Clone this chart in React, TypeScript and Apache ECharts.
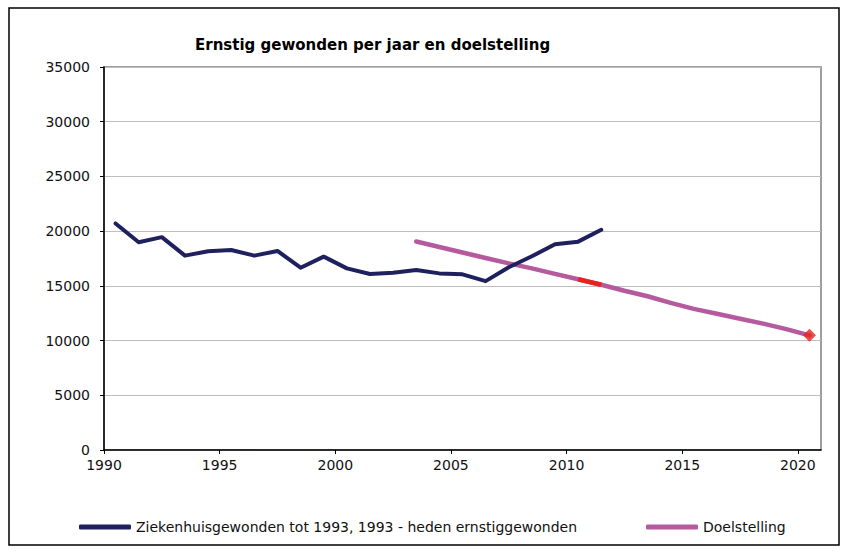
import React, { useEffect, useRef } from "react";
import * as echarts from "echarts";

const TITLE = "Ernstig gewonden per jaar en doelstelling";
const SERIES_A_NAME = "Ziekenhuisgewonden tot 1993, 1993 - heden ernstiggewonden";
const SERIES_B_NAME = "Doelstelling";

// Points are plotted at mid-year
const MID_YEAR = 0.5;

const injuredYears = [
  1990, 1991, 1992, 1993, 1994, 1995, 1996, 1997, 1998, 1999, 2000,
  2001, 2002, 2003, 2004, 2005, 2006, 2007, 2008, 2009, 2010, 2011,
];
const injuredValues = [
  20700, 18990, 19450, 17760, 18160, 18280, 17760, 18190, 16660, 17670, 16600,
  16080, 16200, 16440, 16140, 16050, 15430, 16700, 17700, 18800, 19040, 20120,
];

const targetYears = [
  2003, 2004, 2005, 2006, 2007, 2008, 2009, 2010, 2011,
  2012, 2013, 2014, 2015, 2016, 2017, 2018, 2019, 2020,
];
const targetValues = [
  19050, 18550, 18050, 17550, 17050, 16600, 16100, 15600, 15100,
  14550, 14050, 13450, 12900, 12450, 12000, 11550, 11050, 10480,
];

// highlighted target segment and final target point
const highlightYears = [2010, 2011];
const finalYear = 2020;

const xTickValues = [1990, 1995, 2000, 2005, 2010, 2015, 2020];
const X_MIN = 1990;
const X_MAX = 2021;
const Y_MIN = 0;
const Y_MAX = 35000;
const Y_STEP = 5000;

const NAVY = "#1f215e";
const PURPLE = "#b65a9f";
const RED = "#e8221e";
const FONT = "DejaVu Sans";

export default function App() {
  const ref = useRef<HTMLDivElement>(null);

  useEffect(() => {
    document.body.style.margin = "0";
    if (!ref.current) return;
    const chart = echarts.init(ref.current, undefined, { renderer: "svg" });

    const injuredData = injuredYears.map((y, i) => [y + MID_YEAR, injuredValues[i]]);
    const targetData = targetYears.map((y, i) => [y + MID_YEAR, targetValues[i]]);
    const highlightData = highlightYears.map((y) => [
      y + MID_YEAR,
      targetValues[targetYears.indexOf(y)],
    ]);
    const finalData = [[finalYear + MID_YEAR, targetValues[targetYears.indexOf(finalYear)]]];

    const legendBase = {
      orient: "horizontal" as const,
      top: 515,
      itemWidth: 52,
      itemHeight: 5,
      icon: "roundRect",
      textStyle: { fontFamily: FONT, fontSize: 14, color: "#111" },
    };

    const plain = (v: number) => String(v);

    chart.setOption({
      animation: false,
      backgroundColor: "#ffffff",
      title: {
        text: TITLE,
        left: 190,
        top: 32,
        textStyle: { fontFamily: FONT, fontSize: 15, fontWeight: "bold", color: "#000" },
      },
      legend: [
        { ...legendBase, left: 74, data: [SERIES_A_NAME] },
        { ...legendBase, left: 641, data: [SERIES_B_NAME] },
      ],
      grid: {
        left: 104,
        right: 23,
        top: 67,
        bottom: 105,
        show: true,
        borderColor: "#7f7f7f",
        borderWidth: 1.5,
        backgroundColor: "transparent",
      },
      xAxis: {
        type: "value",
        min: X_MIN,
        max: X_MAX,
        interval: 5,
        axisLine: { show: true, onZero: false, lineStyle: { color: "#000", width: 1.5 } },
        axisTick: {
          show: true,
          length: 4,
          customValues: xTickValues,
          lineStyle: { color: "#000" },
        },
        axisLabel: {
          customValues: xTickValues,
          formatter: plain,
          margin: 8,
          fontFamily: FONT,
          fontSize: 14,
          color: "#111",
        },
        splitLine: { show: false },
      },
      yAxis: {
        type: "value",
        min: Y_MIN,
        max: Y_MAX,
        interval: Y_STEP,
        axisLine: { show: true, lineStyle: { color: "#000", width: 1.5 } },
        axisTick: { show: true, length: 4, lineStyle: { color: "#000" } },
        axisLabel: { formatter: plain, margin: 14, fontFamily: FONT, fontSize: 14, color: "#111" },
        splitLine: { show: true, lineStyle: { color: "#bdbdbd", width: 1 } },
      },
      graphic: [
        {
          type: "rect",
          shape: { x: 9, y: 8, width: 830, height: 537 },
          style: { fill: "none", stroke: "#000", lineWidth: 1.5 },
          silent: true,
        },
      ],
      series: [
        {
          name: SERIES_A_NAME,
          type: "line",
          data: injuredData,
          showSymbol: false,
          symbol: "none",
          color: NAVY,
          lineStyle: { color: NAVY, width: 4, cap: "round", join: "round" },
          z: 3,
        },
        {
          name: SERIES_B_NAME,
          type: "line",
          data: targetData,
          showSymbol: false,
          symbol: "none",
          color: PURPLE,
          lineStyle: { color: PURPLE, width: 4.5, cap: "round", join: "round" },
          z: 2,
        },
        {
          name: "highlight",
          type: "line",
          data: highlightData,
          showSymbol: false,
          symbol: "none",
          color: RED,
          lineStyle: { color: RED, width: 4.5 },
          z: 4,
        },
        {
          name: "final",
          type: "scatter",
          data: finalData,
          symbol: "diamond",
          symbolSize: 13,
          itemStyle: { color: RED },
          z: 5,
        },
      ],
    });

    return () => chart.dispose();
  }, []);

  return <div ref={ref} style={{ width: 844, height: 555 }} />;
}
